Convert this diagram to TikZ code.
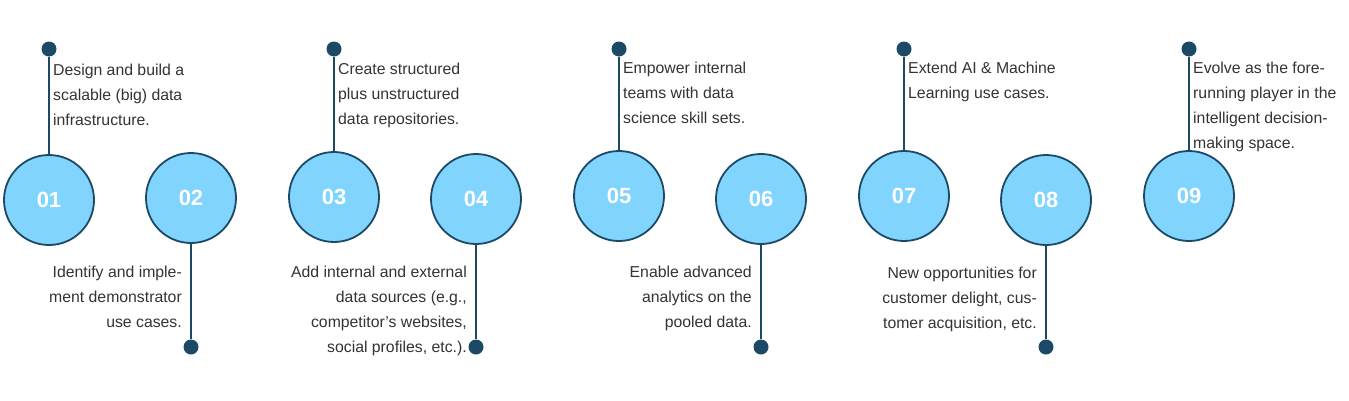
\documentclass[tikz,border=0pt]{standalone}
\usepackage{fontspec}
\setmainfont{Liberation Sans}
\definecolor{navy}{HTML}{1C4A66}
\definecolor{lblue}{HTML}{80D4FE}
\definecolor{txt}{HTML}{333333}
\begin{document}
\begin{tikzpicture}[x=1pt,y=-1pt,
  circ/.style={circle,draw=navy,line width=1.8pt,fill=lblue,minimum size=90pt,inner sep=0pt,text=white,font=\bfseries\fontsize{22}{22}\selectfont},
  dot/.style={circle,fill=navy,minimum size=15pt,inner sep=0pt},
  conn/.style={navy,line width=2pt},
  tl/.style={anchor=north west,align=left,text=txt,font=\fontsize{15.8}{25}\selectfont,inner sep=0pt},
  bl/.style={anchor=north east,align=right,text=txt,font=\fontsize{15.8}{25}\selectfont,inner sep=0pt}]
\useasboundingbox (0,0) rectangle (1349,400);
\node[circ] (c1) at (49,200) {01};
\node[circ] (c2) at (191,198) {02};
\node[circ] (c3) at (334,197) {03};
\node[circ] (c4) at (476,199) {04};
\node[circ] (c5) at (619,196) {05};
\node[circ] (c6) at (761,199) {06};
\node[circ] (c7) at (904,196) {07};
\node[circ] (c8) at (1046,200) {08};
\node[circ] (c9) at (1189,196) {09};
\foreach \i/\x in {1/49,3/334,5/619,7/904,9/1189}{
  \node[dot] (t\i) at (\x,49) {};
  \draw[conn] (t\i) -- (c\i);
}
\foreach \i/\x in {2/191,4/476,6/761,8/1046}{
  \node[dot] (b\i) at (\x,347) {};
  \draw[conn] (c\i) -- (b\i);
}
\node[tl] (l1) at (53,64) {Design and build a\\scalable (big) data\\infrastructure.};
\node[tl] (l3) at (338,63) {Create structured\\plus unstructured\\data repositories.};
\node[tl] (l5) at (623,62) {Empower internal\\teams with data\\science skill sets.};
\node[tl] (l7) at (908,62) {Extend AI \& Machine\\Learning use cases.};
\node[tl] (l9) at (1193,62) {Evolve as the fore-\\running player in the\\intelligent decision-\\making space.};
\node[bl] (l2) at (182,266) {Identify and imple-\\ment demonstrator\\use cases.};
\node[bl] (l4) at (467,266) {Add internal and external\\data sources (e.g.,\\competitor’s websites,\\social profiles, etc.).};
\node[bl] (l6) at (752,266) {Enable advanced\\analytics on the\\pooled data.};
\node[bl] (l8) at (1037,267) {New opportunities for\\customer delight, cus-\\tomer acquisition, etc.};
\end{tikzpicture}
\end{document}
